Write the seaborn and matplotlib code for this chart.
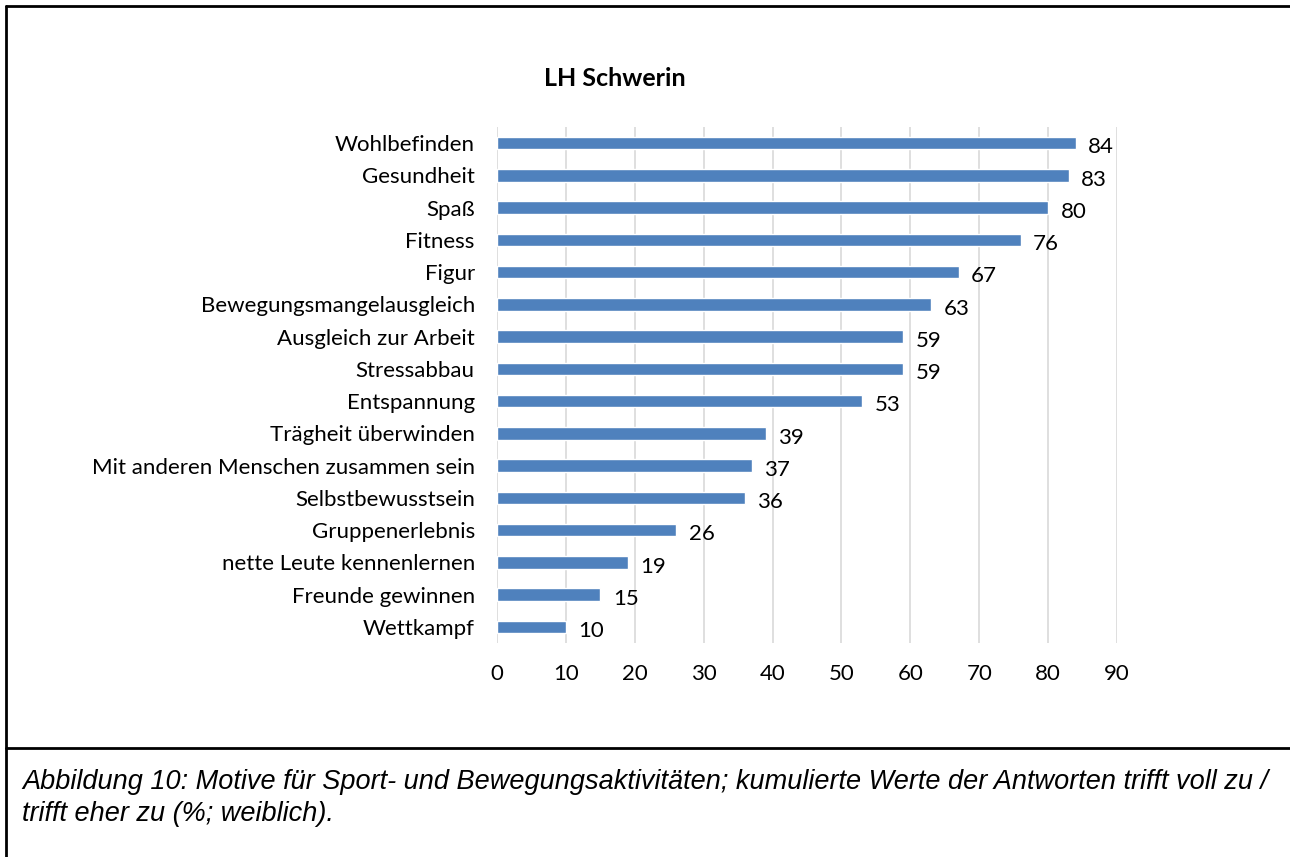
import matplotlib
matplotlib.use("Agg")
import matplotlib.pyplot as plt
import seaborn as sns
import pandas as pd
from matplotlib.lines import Line2D

categories = ["Wohlbefinden", "Gesundheit", "Spaß", "Fitness", "Figur",
              "Bewegungsmangelausgleich", "Ausgleich zur Arbeit", "Stressabbau",
              "Entspannung", "Trägheit überwinden", "Mit anderen Menschen zusammen sein",
              "Selbstbewusstsein", "Gruppenerlebnis", "nette Leute kennenlernen",
              "Freunde gewinnen", "Wettkampf"]
values = [84, 83, 80, 76, 67, 63, 59, 59, 53, 39, 37, 36, 26, 19, 15, 10]
x_ticks = [0, 10, 20, 30, 40, 50, 60, 70, 80, 90]
title = "LH Schwerin"
caption_lines = ["Abbildung 10: Motive für Sport- und Bewegungsaktivitäten; kumulierte Werte der Antworten trifft voll zu /",
                 "trifft eher zu (%; weiblich)."]

sns.set_theme(style="white")
plt.rcParams['font.family'] = ['Lato', 'DejaVu Sans']

df = pd.DataFrame({"cat": categories, "val": values})

fig = plt.figure(figsize=(12.9, 8.57), dpi=100)
ax = fig.add_axes([497/1290, 1-643/857, 620/1290, 516/857])

sns.barplot(data=df, y="cat", x="val", orient="h", color="#4F81BD",
            saturation=1, width=0.39, ax=ax, order=categories)

ax.set_xlim(0, 90)
ax.set_xticks(x_ticks)
ax.set_xticklabels([str(t) for t in x_ticks], fontsize=16, color="#000000")
ax.tick_params(axis="x", length=0, pad=15)
ax.tick_params(axis="y", length=0, pad=16, labelsize=16, labelcolor="#000000")
ax.set_xlabel("")
ax.set_ylabel("")
for s in ax.spines.values():
    s.set_visible(False)
ax.grid(axis="x", color="#D9D9D9", linewidth=1.2)
ax.set_axisbelow(True)

for i, v in enumerate(values):
    ax.annotate(str(v), xy=(v, i), xytext=(9, -3), textcoords="offset points",
                va="center", ha="left", fontsize=16, color="#000000")

fig.text(615/1290, 1-78/857, title, ha="center", va="center",
         fontsize=18, fontweight="bold", color="#000000")

# frame and separator
fig.add_artist(Line2D([6/1290, 6/1290], [0, 1-6/857], transform=fig.transFigure, color="black", lw=2))
fig.add_artist(Line2D([6/1290, 1290/1290], [1-6/857, 1-6/857], transform=fig.transFigure, color="black", lw=2))
fig.add_artist(Line2D([6/1290, 1290/1290], [1-748/857, 1-748/857], transform=fig.transFigure, color="black", lw=2))

for k, (line, yb) in enumerate(zip(caption_lines, [789, 821])):
    fig.text(22/1290, 1-yb/857, line, ha="left", va="baseline", fontsize=19.5,
             style="italic", family=["Liberation Sans", "DejaVu Sans"],
             color="#000000")

fig.savefig("out.png", dpi=100)
